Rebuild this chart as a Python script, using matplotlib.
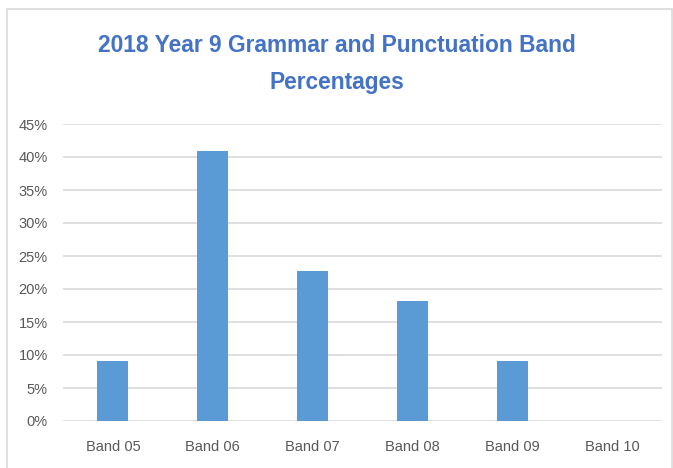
import matplotlib.pyplot as plt
from matplotlib.patches import Rectangle

# Band percentages
bands = ['Band 05', 'Band 06', 'Band 07', 'Band 08', 'Band 09', 'Band 10']
percentages = [9.09, 40.91, 22.73, 18.18, 9.09, 0.0]
y_ticks = [0, 5, 10, 15, 20, 25, 30, 35, 40, 45]

plt.rcParams['font.family'] = ['Liberation Sans Narrow', 'Liberation Sans', 'DejaVu Sans']

fig = plt.figure(figsize=(6.73, 4.68), dpi=100)
ax = fig.add_axes([63 / 673, 1 - 421 / 468, (662 - 63) / 673, (421 - 124) / 468])

# Outer chart border
fig.patches.append(Rectangle((7 / 673, -0.01), 665 / 673, 1 - 9 / 468 + 0.01,
                             transform=fig.transFigure, fill=False,
                             edgecolor='#D9D9D9', linewidth=1.2))

x = range(len(bands))
ax.bar(x, percentages, width=0.31, color='#5B9BD5', zorder=3)

ax.set_xlim(-0.5, len(bands) - 0.5)
ax.set_ylim(0, 45)
ax.set_yticks(y_ticks)
ax.set_yticklabels([f'{t}%' for t in y_ticks])
ax.set_xticks(list(x))
ax.set_xticklabels(bands)
ax.tick_params(length=0, colors='#595959', labelsize=10.5)
ax.tick_params(axis='x', pad=14)
ax.tick_params(axis='y', pad=11)
ax.grid(axis='y', color='#D9D9D9', linewidth=1.2, zorder=0)
for s in ax.spines.values():
    s.set_visible(False)

fig.text(0.5, 1 - 46 / 468, '2018 Year 9 Grammar and Punctuation Band',
         ha='center', va='center', fontsize=16.4, fontweight='bold', color='#4472C4')
fig.text(0.5, 1 - 82 / 468, 'Percentages',
         ha='center', va='center', fontsize=16.4, fontweight='bold', color='#4472C4')

fig.savefig('out.png', dpi=100)
